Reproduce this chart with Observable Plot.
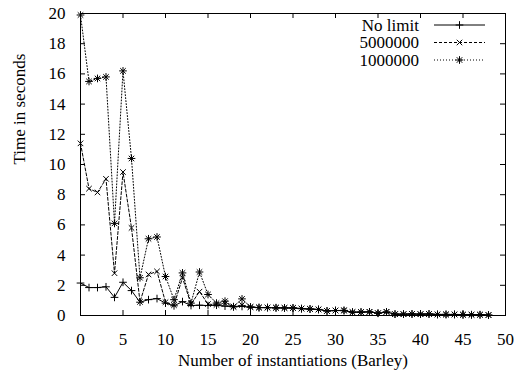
<!DOCTYPE html>
<html>
<head>
<meta charset="utf-8">
<script src="https://cdn.jsdelivr.net/npm/d3@7"></script>
<script src="https://cdn.jsdelivr.net/npm/@observablehq/plot@0.6"></script>
<style>
  html, body { margin: 0; padding: 0; background: white; }
  #chart { position: relative; width: 517px; height: 376px; }
</style>
</head>
<body>
<div id="chart"></div>
<script>
// ---- data ----
const instantiations = [0,1,2,3,4,5,6,7,8,9,10,11,12,13,14,15,16,17,18,19,20,21,22,23,24,25,26,27,28,29,30,31,32,33,34,35,36,37,38,39,40,41,42,43,44,45,46,47,48];
const noLimit = [2.15,1.85,1.85,1.9,1.2,2.2,1.65,0.88,1.05,1.12,0.82,0.64,0.92,0.66,0.68,0.66,0.68,0.62,0.58,0.6,0.55,0.52,0.52,0.5,0.5,0.5,0.45,0.42,0.4,0.3,0.33,0.32,0.22,0.22,0.24,0.15,0.22,0.09,0.09,0.1,0.09,0.1,0.07,0.07,0.07,0.05,0.05,0.05,0.03];
const limit5000000 = [11.4,8.4,8.15,9.05,2.8,9.5,5.8,0.9,2.72,2.92,0.88,0.68,2.5,0.75,1.58,0.76,0.7,0.8,0.58,0.7,0.56,0.53,0.52,0.51,0.5,0.5,0.46,0.43,0.4,0.3,0.33,0.33,0.22,0.22,0.24,0.15,0.24,0.09,0.09,0.1,0.09,0.1,0.07,0.07,0.07,0.05,0.05,0.05,0.03];
const limit1000000 = [19.9,15.5,15.7,15.8,6.1,16.2,10.4,2.5,5.08,5.2,2.58,1.05,2.82,0.82,2.88,1.39,0.82,0.95,0.58,1.1,0.56,0.53,0.53,0.52,0.5,0.5,0.46,0.44,0.4,0.3,0.33,0.34,0.22,0.23,0.24,0.15,0.24,0.09,0.09,0.1,0.09,0.1,0.07,0.07,0.07,0.05,0.05,0.05,0.03];
const seriesNames = ["No limit", "5000000", "1000000"];
const xTicks = [0,5,10,15,20,25,30,35,40,45,50];
const yTicks = [0,2,4,6,8,10,12,14,16,18,20];
const xLabel = "Number of instantiations (Barley)";
const yLabel = "Time in seconds";

// ---- styles ----
const FONT = "'Liberation Serif', 'Times New Roman', serif";
const FS = 17;
const styles = [
  {dash: null, symbols: ["plus"]},
  {dash: "3,2", symbols: ["times"]},
  {dash: "1,2", symbols: ["plus", "times"]}
];
const seriesValues = [noLimit, limit5000000, limit1000000];

const rows = [];
seriesValues.forEach((vals, s) => {
  instantiations.forEach((x, i) => rows.push({series: seriesNames[s], x, y: vals[i]}));
});

const W = 517, H = 376, mL = 80, mR = 12, mT = 13, mB = 61;
const innerW = W - mL - mR, innerH = H - mT - mB;
const tick = 5;

const marks = [
  Plot.frame({stroke: "black", strokeWidth: 1}),
  Plot.axisX(xTicks, {tickSize: 0, tickPadding: 17, label: null, fontSize: FS, fontFamily: FONT}),
  Plot.axisY(yTicks, {tickSize: 0, tickPadding: 15, label: null, fontSize: FS, fontFamily: FONT}),
  Plot.tickX(xTicks, {x: d => d, insetTop: innerH - tick, stroke: "black"}),
  Plot.tickX(xTicks, {x: d => d, insetBottom: innerH - tick, stroke: "black"}),
  Plot.tickY(yTicks, {y: d => d, insetRight: innerW - tick, stroke: "black"}),
  Plot.tickY(yTicks, {y: d => d, insetLeft: innerW - tick, stroke: "black"}),
  Plot.text([xLabel], {frameAnchor: "bottom", dy: 50, text: d => d, fontSize: FS, fontFamily: FONT}),
  Plot.text([yLabel], {frameAnchor: "left", dx: -61, rotate: -90, text: d => d, fontSize: FS, fontFamily: FONT})
];
seriesNames.forEach((name, s) => {
  const data = rows.filter(r => r.series === name);
  marks.push(Plot.line(data, {x: "x", y: "y", stroke: "black", strokeWidth: 1, strokeDasharray: styles[s].dash}));
  styles[s].symbols.forEach(sym => {
    marks.push(Plot.dot(data, {x: "x", y: "y", symbol: sym, r: 2.6, stroke: "black", strokeWidth: 1}));
  });
});

const chart = Plot.plot({
  width: W, height: H,
  marginLeft: mL, marginRight: mR, marginTop: mT, marginBottom: mB,
  x: {domain: [0, 50]},
  y: {domain: [0, 20]},
  style: `font-family: ${FONT}; font-size: ${FS}px; background: white; color: black;`,
  marks
});
document.getElementById("chart").appendChild(chart);

// ---- legend (inside top-right, gnuplot style) ----
const svg = d3.select(chart);
const lg = svg.append("g").style("font-family", FONT).style("font-size", FS + "px");
const symGen = {plus: d3.symbolPlus, times: d3.symbolTimes};
seriesNames.forEach((name, s) => {
  const cy = mT + 12 + s * 17.5;
  const textX = W - mR - 86, x1 = W - mR - 71, x2 = W - mR - 20, mx = (x1 + x2) / 2;
  lg.append("text").attr("x", textX).attr("y", cy).attr("text-anchor", "end").attr("dy", "0.35em").attr("fill", "black").text(name);
  lg.append("line").attr("x1", x1).attr("x2", x2).attr("y1", cy).attr("y2", cy)
    .attr("stroke", "black").attr("stroke-width", 1).attr("stroke-dasharray", styles[s].dash);
  styles[s].symbols.forEach(sym => {
    lg.append("path").attr("transform", `translate(${mx},${cy})`)
      .attr("d", d3.symbol(symGen[sym], Math.PI * 2.6 * 2.6)())
      .attr("fill", "none").attr("stroke", "black").attr("stroke-width", 1);
  });
});
</script>
</body>
</html>
